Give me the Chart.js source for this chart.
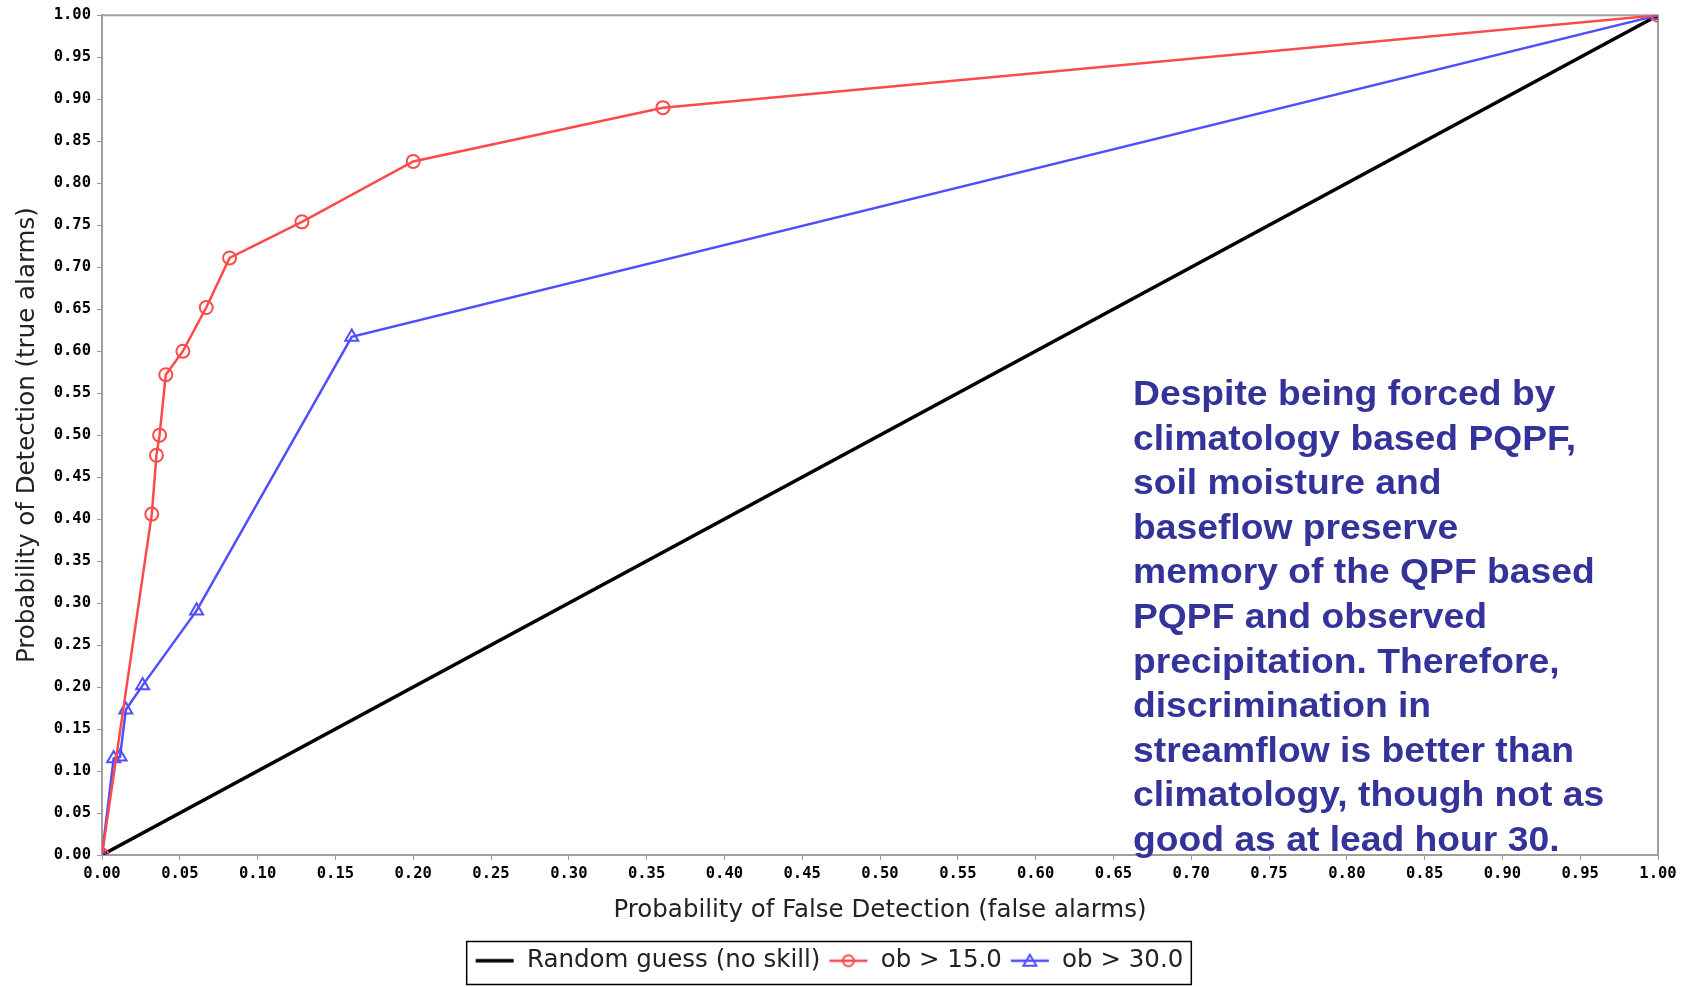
<!DOCTYPE html>
<html><head><meta charset="utf-8">
<script src="https://cdn.jsdelivr.net/npm/chart.js@4.4.0/dist/chart.umd.min.js"></script>
<style>
html,body{margin:0;padding:0;background:#fff;}
#wrap{position:relative;width:1682px;height:987px;}
#note{position:absolute;left:1133px;top:371px;font-family:"Liberation Sans",Arial,sans-serif;font-weight:bold;font-size:34.5px;line-height:44.6px;color:#333399;transform:scaleX(1.08);transform-origin:0 0;white-space:nowrap;}
</style></head><body>
<div id="wrap"><canvas id="c" width="1682" height="987"></canvas>
<div id="note">Despite being forced by<br>climatology based PQPF,<br>soil moisture and<br>baseflow preserve<br>memory of the QPF based<br>PQPF and observed<br>precipitation. Therefore,<br>discrimination in<br>streamflow is better than<br>climatology, though not as<br>good as at lead hour 30.</div></div>
<script>
// ---- data ----
const seriesNames = ['Random guess (no skill)', 'ob > 15.0', 'ob > 30.0'];
const randomX = [0, 1];
const randomY = [0, 1];
const ob15X = [0, 0.032, 0.035, 0.037, 0.041, 0.052, 0.067, 0.082, 0.1285, 0.200, 0.3605, 1];
const ob15Y = [0, 0.406, 0.476, 0.500, 0.572, 0.600, 0.652, 0.711, 0.754, 0.826, 0.890, 1];
const ob30X = [0, 0.0075, 0.0116, 0.0153, 0.0261, 0.0608, 0.1605, 1];
const ob30Y = [0, 0.115, 0.117, 0.173, 0.202, 0.291, 0.617, 1];
const xTickLabels = ['0.00','0.05','0.10','0.15','0.20','0.25','0.30','0.35','0.40','0.45','0.50','0.55','0.60','0.65','0.70','0.75','0.80','0.85','0.90','0.95','1.00'];
const yTickLabels = ['0.00','0.05','0.10','0.15','0.20','0.25','0.30','0.35','0.40','0.45','0.50','0.55','0.60','0.65','0.70','0.75','0.80','0.85','0.90','0.95','1.00'];
const xTitle = 'Probability of False Detection (false alarms)';
const yTitle = 'Probability of Detection (true alarms)';

const RED = '#ff4a4a', BLUE = '#4f4fff', BLACK = '#000000';
const toPts = (xs, ys) => xs.map((x, i) => ({x: x, y: ys[i]}));

function swatch(color, lw, marker) {
  const c = document.createElement('canvas');
  c.width = 40; c.height = 18;
  const g = c.getContext('2d');
  g.strokeStyle = color; g.lineWidth = lw;
  g.beginPath(); g.moveTo(1, 9); g.lineTo(39, 9); g.stroke();
  g.lineWidth = 2;
  if (marker === 'circle') { g.beginPath(); g.arc(20, 9, 5.5, 0, Math.PI * 2); g.stroke(); }
  if (marker === 'triangle') { g.beginPath(); g.moveTo(20, 3); g.lineTo(26.5, 14); g.lineTo(13.5, 14); g.closePath(); g.stroke(); }
  return c;
}
const sw = [swatch(BLACK, 3.5, null), swatch(RED, 2.5, 'circle'), swatch(BLUE, 2.5, 'triangle')];

const tickFont = {family: '"DejaVu Sans Mono", monospace', size: 15.5, weight: 'bold'};
const titleFont = {family: '"DejaVu Sans", sans-serif', size: 24.5};

const borderPlugin = {
  id: 'frame',
  beforeDatasetsDraw(chart) {
    const a = chart.chartArea, ctx = chart.ctx;
    ctx.save(); ctx.strokeStyle = '#a0a0a0'; ctx.lineWidth = 2;
    ctx.strokeRect(a.left, a.top, a.right - a.left, a.bottom - a.top);
    ctx.restore();
  },
  afterDraw(chart) {
    const lg = chart.legend, hb = lg.legendHitBoxes, ctx = chart.ctx;
    if (!hb || !hb.length) return;
    const l = Math.min(...hb.map(h => h.left));
    const r = Math.max(...hb.map(h => h.left + h.width));
    ctx.save(); ctx.strokeStyle = '#000'; ctx.lineWidth = 1.5;
    ctx.strokeRect(l - 8, lg.top + 1, r - l + 16, 43);
    ctx.restore();
  }
};

new Chart(document.getElementById('c'), {
  type: 'scatter',
  data: {
    datasets: [
      {label: seriesNames[1], data: toPts(ob15X, ob15Y), showLine: true, borderColor: RED, borderWidth: 2.5, pointStyle: 'circle', pointRadius: 6.5, pointBorderWidth: 2, pointBorderColor: RED, pointBackgroundColor: 'transparent', tension: 0, clip: 0},
      {label: seriesNames[2], data: toPts(ob30X, ob30Y), showLine: true, borderColor: BLUE, borderWidth: 2.5, pointStyle: 'triangle', pointRadius: 7.5, pointBorderWidth: 2, pointBorderColor: BLUE, pointBackgroundColor: 'transparent', tension: 0, clip: 0},
      {label: seriesNames[0], data: toPts(randomX, randomY), showLine: true, borderColor: BLACK, borderWidth: 3.5, pointRadius: 0, tension: 0, clip: 0}
    ]
  },
  options: {
    responsive: false, animation: false, devicePixelRatio: 1,
    layout: {padding: {left: 0, right: 24, top: 15, bottom: 4}},
    plugins: {
      tooltip: {enabled: false},
      legend: {
        position: 'bottom',
        labels: {
          usePointStyle: true, pointStyleWidth: 40, padding: 8,
          font: titleFont, color: '#222',
          generateLabels: () => [
            {text: seriesNames[0], pointStyle: sw[0], datasetIndex: 2, hidden: false, lineWidth: 0, fontColor: '#222'},
            {text: seriesNames[1], pointStyle: sw[1], datasetIndex: 0, hidden: false, lineWidth: 0, fontColor: '#222'},
            {text: seriesNames[2], pointStyle: sw[2], datasetIndex: 1, hidden: false, lineWidth: 0, fontColor: '#222'}
          ]
        }
      }
    },
    scales: {
      x: {
        type: 'linear', min: 0, max: 1,
        afterBuildTicks: s => { s.ticks = xTickLabels.map(t => ({value: parseFloat(t)})); },
        afterFit: s => { s.height = 987 - 4 - s.chart.legend.height - 855; },
        ticks: {font: tickFont, color: '#000', padding: 5, maxRotation: 0, autoSkip: false,
          callback: (v, i) => xTickLabels[i]},
        grid: {drawOnChartArea: false, drawTicks: true, tickLength: 5, color: '#999'},
        border: {display: true, color: '#a0a0a0', width: 2},
        title: {display: true, text: xTitle, font: titleFont, color: '#222', padding: {top: 0, bottom: 15.5}}
      },
      y: {
        type: 'linear', min: 0, max: 1,
        afterBuildTicks: s => { s.ticks = yTickLabels.map(t => ({value: parseFloat(t)})); },
        afterFit: s => { s.width = 102; },
        ticks: {font: tickFont, color: '#000', padding: 6, autoSkip: false,
          callback: (v, i) => yTickLabels[i]},
        grid: {drawOnChartArea: false, drawTicks: true, tickLength: 5, color: '#999'},
        border: {display: true, color: '#a0a0a0', width: 2},
        title: {display: true, text: yTitle, font: titleFont, color: '#222', padding: {top: 12.5, bottom: 0}}
      }
    }
  },
  plugins: [borderPlugin]
});
</script>
</body></html>
